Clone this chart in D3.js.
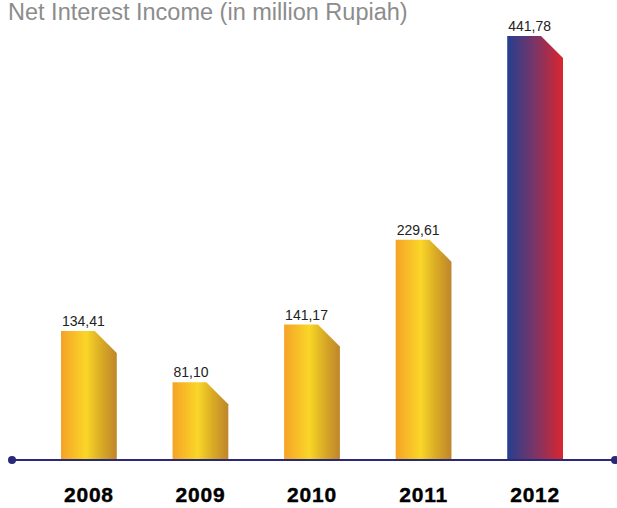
<!DOCTYPE html>
<html>
<head>
<meta charset="utf-8">
<script src="https://cdn.jsdelivr.net/npm/d3@7"></script>
<style>
  html, body { margin: 0; padding: 0; background: #fff; }
  svg { display: block; }
  .year text { font-family: "Liberation Sans", Arial, sans-serif; font-weight: bold; font-size: 21px; letter-spacing: 0.8px; fill: #000; stroke: #000; stroke-width: 0.4px; }
</style>
</head>
<body>
<svg id="chart" width="617" height="508"></svg>
<script>
// Net interest income per year, million Rupiah
const years = ["2008", "2009", "2010", "2011", "2012"];
const values = [134.41, 81.10, 141.17, 229.61, 441.78];
const valueLabels = ["134,41", "81,10", "141,17", "229,61", "441,78"];
const highlightYear = "2012";

const svg = d3.select("#chart");
const baseY = 460;
const chamfer = 22;

const x = d3.scaleBand().domain(years).range([61, 563]).paddingInner(0.5).paddingOuter(0);
const y = d3.scaleLinear().domain([0, d3.max(values)]).range([baseY, 36]);

// gradients
const defs = svg.append("defs");
const gold = defs.append("linearGradient").attr("id", "gold").attr("x1", "0").attr("x2", "1").attr("y1", "0").attr("y2", "0");
[["0%", "#f5a327"], ["45%", "#fad628"], ["72%", "#d9ab25"], ["100%", "#bf852b"]]
  .forEach(([o, c]) => gold.append("stop").attr("offset", o).attr("stop-color", c));
const flag = defs.append("linearGradient").attr("id", "flag").attr("x1", "0").attr("x2", "1").attr("y1", "0").attr("y2", "0");
[["0%", "#243f90"], ["50%", "#7c3466"], ["100%", "#da262f"]]
  .forEach(([o, c]) => flag.append("stop").attr("offset", o).attr("stop-color", c));

// title
svg.append("text")
  .attr("x", 8).attr("y", 19.5)
  .attr("font-family", "'Liberation Sans', Arial, sans-serif")
  .attr("font-size", 23.5)
  .attr("fill", "#8c8c8c")
  .text("Net Interest Income (in million Rupiah)");

const data = years.map((yr, i) => ({ year: yr, value: values[i], label: valueLabels[i] }));

// bars with a clipped top-right corner
const barPath = d => {
  const x0 = x(d.year), x1 = x0 + x.bandwidth(), top = y(d.value);
  return `M${x0},${baseY}V${top}H${x1 - chamfer}L${x1},${top + chamfer}V${baseY}Z`;
};

svg.append("g").selectAll("path")
  .data(data)
  .join("path")
  .attr("d", barPath)
  .attr("fill", d => d.year === highlightYear ? "url(#flag)" : "url(#gold)");

// value labels
svg.append("g").selectAll("text")
  .data(data)
  .join("text")
  .attr("x", d => x(d.year) + 1)
  .attr("y", d => y(d.value) - 5)
  .attr("font-family", "'Liberation Sans', Arial, sans-serif")
  .attr("font-size", 14)
  .attr("fill", "#222")
  .text(d => d.label);

// baseline with end dots
svg.append("line")
  .attr("x1", 12).attr("x2", 615)
  .attr("y1", baseY).attr("y2", baseY)
  .attr("stroke", "#2a2878").attr("stroke-width", 2);
svg.append("g").selectAll("circle")
  .data([12, 615])
  .join("circle")
  .attr("cx", d => d).attr("cy", baseY).attr("r", 4)
  .attr("fill", "#2a2878");

// year axis
const axis = svg.append("g")
  .attr("class", "year")
  .attr("transform", `translate(0,${baseY})`)
  .call(d3.axisBottom(x).tickSize(0).tickPadding(27));
axis.select(".domain").remove();
axis.selectAll("text").attr("dy", "0.71em");
</script>
</body>
</html>
